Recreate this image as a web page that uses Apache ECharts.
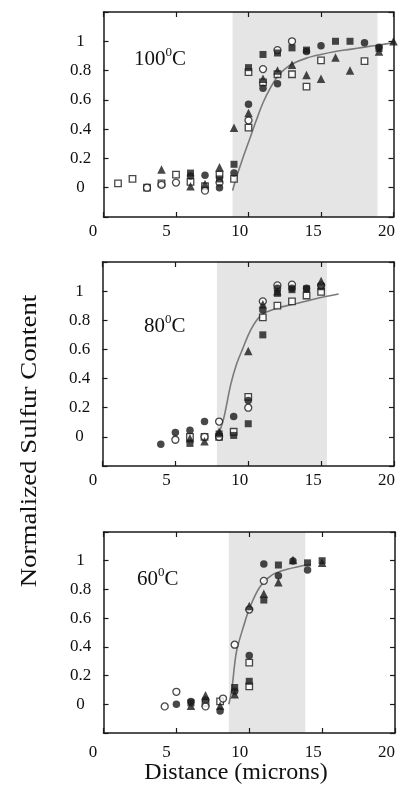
<!DOCTYPE html>
<html>
<head>
<meta charset="utf-8">
<script src="https://cdn.jsdelivr.net/npm/echarts@6/dist/echarts.min.js"></script>
<style>
html,body{margin:0;padding:0;background:#fff;}
#chart{width:398px;height:801px;}
</style>
</head>
<body>
<div id="chart"></div>
<script>
// ---- Data ----
const panelNames = ['100', '80', '60'];
const xTickLabels = [0, 5, 10, 15, 20];
const yTickLabels = [0, 0.2, 0.4, 0.6, 0.8, 1];

// 100 C panel
const p100FilledCircle = [[6,0.08],[7,0.085],[8,0.0],[9,0.10],[10,0.57],[11,0.68],[12,0.71],[14,0.93],[15,0.97],[18,0.99],[19,0.96]];
const p100OpenCircle = [[3,0.0],[4,0.02],[5,0.035],[7,-0.02],[8,0.035],[10,0.46],[11,0.81],[12,0.94],[13,1.0]];
const p100FilledSquare = [[6,0.10],[8,0.06],[9,0.16],[10,0.82],[11,0.91],[12,0.92],[13,0.955],[14,0.94],[16,1.0],[17,1.0],[19,0.95]];
const p100OpenSquare = [[1,0.03],[2,0.06],[3,0.0],[4,0.03],[5,0.09],[6,0.04],[7,0.01],[8,0.09],[9,0.06],[10,0.41],[10,0.79],[11,0.72],[12,0.775],[13,0.775],[14,0.69],[15,0.87],[18,0.865]];
const p100FilledTriangle = [[4,0.125],[6,0.01],[7,0.025],[8,0.14],[9,0.41],[10,0.51],[11,0.745],[12,0.80],[13,0.84],[14,0.77],[15,0.745],[16,0.89],[17,0.80],[19,0.93],[20,1.0]];
const p100Curve = [[8.9,-0.02],[9.2,0.08],[9.6,0.2],[10,0.31],[10.5,0.45],[11,0.58],[11.5,0.68],[12,0.76],[12.5,0.81],[13,0.845],[14,0.885],[15,0.91],[16,0.93],[17,0.945],[18,0.96],[19,0.975],[20,0.99]];
const p100Shade = [8.9, 18.9];

// 80 C panel
const p80FilledCircle = [[4,-0.05],[5,0.03],[6,0.045],[7,0.105],[9,0.14],[10,0.25],[11,0.87],[12,1.02],[13,1.02],[14,1.02]];
const p80OpenCircle = [[5,-0.02],[7,0.0],[8,0.105],[8,0.0],[10,0.2],[11,0.93],[12,1.04],[13,1.045],[15,1.04]];
const p80FilledSquare = [[6,-0.045],[8,0.02],[9,0.01],[10,0.09],[11,0.70],[12,0.985],[13,1.01],[14,1.015],[15,1.03]];
const p80OpenSquare = [[6,0.0],[7,0.0],[8,0.0],[9,0.035],[10,0.275],[11,0.82],[12,0.90],[13,0.93],[14,0.97],[15,0.995]];
const p80FilledTriangle = [[6,-0.01],[7,-0.03],[8,0.035],[10,0.59],[11,0.91],[12,1.0],[15,1.07]];
const p80Curve = [[7.9,0.0],[8.3,0.12],[8.8,0.36],[9.2,0.5],[9.6,0.6],[10.2,0.74],[10.9,0.835],[11.9,0.88],[13.3,0.915],[14.5,0.945],[16.2,0.98]];
const p80Shade = [7.85, 15.4];

// 60 C panel
const p60FilledCircle = [[5,0.0],[6,0.02],[7,0.03],[8,-0.047],[9,0.09],[10,0.34],[11,0.977],[12,0.895],[13,0.998],[14,0.935]];
const p60OpenCircle = [[4.2,-0.015],[5,0.087],[7,-0.015],[8.2,0.04],[9,0.415],[10,0.66],[11,0.86]];
const p60FilledSquare = [[6,0.01],[9,0.117],[10,0.16],[11,0.726],[12,0.97],[14,0.985],[15,1.0]];
const p60OpenSquare = [[7,0.01],[8,0.02],[10,0.29],[10,0.125]];
const p60FilledTriangle = [[6,-0.01],[7,0.063],[8,-0.01],[9,0.07],[10,0.685],[11,0.77],[12,0.85],[13,1.005],[15,0.985]];
const p60Curve = [[8.6,0.0],[8.8,0.1],[9.0,0.28],[9.15,0.38],[9.6,0.54],[10.06,0.68],[10.75,0.82],[11.55,0.9],[12.6,0.94],[14.2,0.975]];
const p60Shade = [8.6, 13.85];

// ---- Layout / style ----
const FONT = 'Liberation Serif';
const INK = '#1a1a1a';
const panels = [
  {name: panelNames[0], fc: p100FilledCircle, oc: p100OpenCircle, fs: p100FilledSquare, os: p100OpenSquare, ft: p100FilledTriangle, curve: p100Curve, shade: p100Shade,
   grid: {left: 103.5, top: 12, width: 290, height: 205}, labelGrid: {left: 93, width: 297}, labelMargin: 6, title: {left: 134, top: 46}},
  {name: panelNames[1], fc: p80FilledCircle, oc: p80OpenCircle, fs: p80FilledSquare, os: p80OpenSquare, ft: p80FilledTriangle, curve: p80Curve, shade: p80Shade,
   grid: {left: 102.5, top: 262, width: 291.5, height: 204}, labelGrid: {left: 93, width: 296}, labelMargin: 6, title: {left: 144, top: 313}},
  {name: panelNames[2], fc: p60FilledCircle, oc: p60OpenCircle, fs: p60FilledSquare, os: p60OpenSquare, ft: p60FilledTriangle, curve: p60Curve, shade: p60Shade,
   grid: {left: 103.5, top: 532, width: 291.5, height: 201}, labelGrid: {left: 93, width: 297}, labelMargin: 11, title: {left: 137, top: 566}}
];

const grids = [], xAxes = [], yAxes = [], series = [], titles = [];
const frameLine = {show: true, lineStyle: {color: INK, width: 1.5}};
const inTick = {show: true, inside: true, length: 5, lineStyle: {color: INK, width: 1.2}};

panels.forEach((p, i) => {
  grids.push(Object.assign({}, p.grid));
  ['bottom', 'top'].forEach(pos => {
    xAxes.push({type: 'value', gridIndex: i, position: pos, min: 0, max: 20, interval: 5, z: 10,
      axisLine: Object.assign({onZero: false}, frameLine), axisTick: inTick, axisLabel: {show: false}, splitLine: {show: false}});
  });
  ['left', 'right'].forEach(pos => {
    yAxes.push({type: 'value', gridIndex: i, position: pos, min: -0.2, max: 1.2, interval: 0.2, z: 10,
      axisLine: Object.assign({onZero: false}, frameLine), axisTick: inTick, splitLine: {show: false},
      axisLabel: pos === 'left' ? {show: true, align: 'center', margin: 23, fontFamily: FONT, fontSize: 17, color: '#111',
        formatter: v => { const r = Math.round(v * 10) / 10; return yTickLabels.indexOf(r) >= 0 ? String(r) : ''; }} : {show: false}});
  });
  series.push({type: 'line', xAxisIndex: 2 * i, yAxisIndex: 2 * i, data: p.curve, smooth: 0.35, showSymbol: false, z: 2,
    lineStyle: {color: '#7a7a7a', width: 1.6}, silent: true,
    markArea: {silent: true, itemStyle: {color: '#e5e5e5'}, data: [[{xAxis: p.shade[0]}, {xAxis: p.shade[1]}]]}});
  const mk = (data, symbol, size, filled) => ({type: 'scatter', xAxisIndex: 2 * i, yAxisIndex: 2 * i, data, symbol, symbolSize: size, z: 4,
    itemStyle: filled ? {color: INK} : {color: '#fff', borderColor: INK, borderWidth: 1.3}});
  series.push(mk(p.os, 'rect', 6.5, false));
  series.push(mk(p.oc, 'circle', 7, false));
  series.push(mk(p.fs, 'rect', 7, true));
  series.push(mk(p.fc, 'circle', 7.5, true));
  series.push(mk(p.ft, 'triangle', 8.5, true));
  titles.push({text: '{a|' + p.name + '}{s|0}{a|C}', left: p.title.left, top: p.title.top, padding: 0,
    textStyle: {fontWeight: 'normal', rich: {a: {fontFamily: FONT, fontSize: 21, fontWeight: 'normal', color: '#111', lineHeight: 26},
                       s: {fontFamily: FONT, fontSize: 13, fontWeight: 'normal', color: '#111', verticalAlign: 'top', lineHeight: 18}}}});
});
// label grids: tick labels of the x axis as printed in the figure
panels.forEach((p, i) => {
  grids.push({left: p.labelGrid.left, width: p.labelGrid.width, top: p.grid.top, height: p.grid.height});
  xAxes.push({type: 'value', gridIndex: 3 + i, position: 'bottom', min: 0, max: 20, interval: 5,
    axisLine: {show: false}, axisTick: {show: false}, splitLine: {show: false},
    axisLabel: {show: true, margin: p.labelMargin, fontFamily: FONT, fontSize: 17, color: '#111',
      formatter: v => xTickLabels.indexOf(v) >= 0 ? String(v) : ''}});
  yAxes.push({type: 'value', gridIndex: 3 + i, show: false, min: -0.2, max: 1.2});
});

const chart = echarts.init(document.getElementById('chart'), null, {renderer: 'canvas'});
chart.setOption({
  backgroundColor: '#fff',
  animation: false,
  title: titles,
  grid: grids,
  xAxis: xAxes,
  yAxis: yAxes,
  series: series,
  graphic: [
    {type: 'text', x: 30, y: 441, rotation: Math.PI / 2, scaleX: 1.12,
      style: {text: 'Normalized Sulfur Content', fontFamily: FONT, fontSize: 24, fill: '#111', align: 'center', verticalAlign: 'middle'}},
    {type: 'text', x: 236, y: 773,
      style: {text: 'Distance (microns)', fontFamily: FONT, fontSize: 24, fill: '#111', align: 'center', verticalAlign: 'middle'}}
  ]
});
</script>
</body>
</html>
